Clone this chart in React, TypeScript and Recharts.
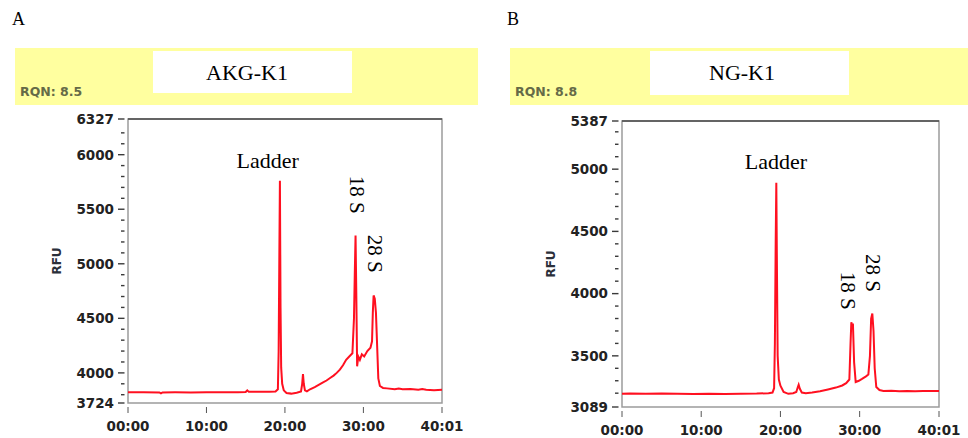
import React from 'react';
import { LineChart, Line, XAxis, YAxis, ReferenceArea, ReferenceLine, ReferenceDot } from 'recharts';

// electropherogram traces (time in minutes, RFU)
const timeA = [0, 2, 4, 4.2, 4.4, 6, 8, 10, 12, 14, 15, 15.2, 15.4, 16, 17, 18, 18.8, 19.1, 19.2, 19.28, 19.36, 19.44, 19.52, 19.65, 19.85, 20.2, 20.8, 21.5, 22.05, 22.2, 22.3, 22.4, 22.55, 22.8, 23.2, 23.8, 24.3, 24.8, 25.3, 25.8, 26.2, 26.6, 27.0, 27.4, 27.8, 28.2, 28.6, 28.8, 28.9, 29.0, 29.1, 29.2, 29.35, 29.55, 29.8, 30.1, 30.5, 30.9, 31.1, 31.2, 31.3, 31.45, 31.6, 31.75, 31.9, 32.1, 32.5, 33, 34, 34.5, 35, 36, 37, 37.5, 38, 39, 40.017];
const rfuA = [3822, 3822, 3821, 3812, 3821, 3822, 3821, 3822, 3822, 3823, 3825, 3840, 3826, 3826, 3827, 3828, 3830, 3850, 4200, 5000, 5760, 4600, 4050, 3900, 3840, 3815, 3810, 3818, 3830, 3900, 3990, 3900, 3840, 3830, 3850, 3870, 3890, 3910, 3930, 3955, 3975, 4000, 4030, 4070, 4120, 4150, 4180, 4500, 4900, 5260, 4700, 4060, 4150, 4120, 4170, 4150, 4200, 4230, 4290, 4550, 4710, 4680, 4550, 4250, 3950, 3880, 3862, 3858, 3850, 3856, 3850, 3852, 3846, 3852, 3845, 3842, 3845];

const timeB = [0, 1, 3, 5, 7, 9, 11, 13, 15, 17, 18.5, 19.0, 19.2, 19.3, 19.4, 19.48, 19.56, 19.65, 19.8, 20.0, 20.4, 21.0, 21.6, 22.0, 22.2, 22.3, 22.45, 22.7, 23.2, 24, 25, 26, 27, 27.8, 28.3, 28.7, 28.85, 28.95, 29.05, 29.15, 29.3, 29.5, 29.9, 30.3, 30.8, 31.1, 31.3, 31.45, 31.6, 31.75, 31.9, 32.1, 32.5, 33, 34, 35, 36, 37, 38, 39, 40.017];
const rfuB = [3195, 3198, 3196, 3197, 3195, 3193, 3195, 3194, 3196, 3197, 3200, 3205, 3240, 3600, 4400, 4890, 4200, 3500, 3310, 3260, 3210, 3195, 3200, 3210, 3250, 3268, 3235, 3205, 3200, 3205, 3215, 3230, 3245, 3262, 3280, 3310, 3600, 3770, 3740, 3760, 3450, 3290, 3300, 3315, 3335, 3350, 3500, 3800, 3840, 3700, 3400, 3250, 3225, 3218, 3220, 3216, 3218, 3216, 3217, 3218, 3218];

const xTicks = [0, 10, 20, 30, 40.017];
const xTickLabels = ['00:00', '10:00', '20:00', '30:00', '40:01'];

const yMajorA = [3724, 4000, 4500, 5000, 5500, 6000, 6327];
const yMinorA = [3800, 3900, 4100, 4200, 4300, 4400, 4600, 4700, 4800, 4900, 5100, 5200, 5300, 5400, 5600, 5700, 5800, 5900, 6100, 6200];
const yMajorB = [3089, 3500, 4000, 4500, 5000, 5387];
const yMinorB = [3200, 3300, 3400, 3600, 3700, 3800, 3900, 4100, 4200, 4300, 4400, 4600, 4700, 4800, 4900, 5100, 5200, 5300];

const peakNames = ['Ladder', '18 S', '28 S'];
const peakVertical = [false, true, true];
const peakTimeA = [17.8, 29.17, 31.46];
const peakRfuA = [5944, 5632, 5091];
const peakTimeB = [19.43, 28.5, 31.67];
const peakRfuB = [5060, 4023, 4166];

const axisFont = '"DejaVu Sans", Verdana, sans-serif';
const serif = '"Liberation Serif", "Times New Roman", serif';

function makeYTick(majors: number[]) {
  return (p: any) => {
    const major = majors.includes(p.payload.value);
    return (
      <g>
        <line x1={p.x - (major ? 10 : 7)} x2={p.x - 3.5} y1={p.y} y2={p.y} stroke="#3a3a3a" strokeWidth={1.4} />
        {major && (
          <text x={p.x - 14} y={p.y} dy="0.36em" textAnchor="end" fontFamily={axisFont} fontSize={13.5} fontWeight="bold" fill="#222">
            {p.payload.value}
          </text>
        )}
      </g>
    );
  };
}

const XTick = (p: any) => (
  <g>
    <line x1={p.x} x2={p.x} y1={p.y + 4} y2={p.y + 10} stroke="#555" strokeWidth={1} />
    <text x={p.x} y={p.y + 28} textAnchor="middle" fontFamily={axisFont} fontSize={13.5} fontWeight="bold" fill="#222">
      {xTickLabels[xTicks.indexOf(p.payload.value)]}
    </text>
  </g>
);

interface PanelProps {
  letter: string;
  title: string;
  rqn: string;
  times: number[];
  rfus: number[];
  yMajor: number[];
  yMinor: number[];
  peakTime: number[];
  peakRfu: number[];
  left: number;
  bandLeft: number;
  bandWidth: number;
  boxLeft: number;
  boxHeight: number;
  titleCenter: number;
  plotLeft: number;
  plotRight: number;
  plotTop: number;
  plotBottom: number;
}

function Panel(pp: PanelProps) {
  const data = pp.times.map((t, i) => ({ t, rfu: pp.rfus[i] }));
  const yMin = pp.yMajor[0];
  const yMax = pp.yMajor[pp.yMajor.length - 1];
  const ticks = [...pp.yMajor, ...pp.yMinor].sort((a, b) => a - b);
  const yAxisWidth = 90;
  const chartTop = 108;
  const chartH = 330;
  return (
    <>
      <div style={{ position: 'absolute', left: pp.left + pp.bandLeft - 3, top: 10, fontFamily: serif, fontSize: 18, lineHeight: '18px' }}>{pp.letter}</div>
      <div style={{ position: 'absolute', left: pp.left + pp.bandLeft, top: 48, width: pp.bandWidth, height: 57, background: '#ffff9f' }} />
      <div style={{ position: 'absolute', left: pp.left + pp.boxLeft, top: 51, width: 199, height: pp.boxHeight, background: '#fff' }} />
      <div style={{ position: 'absolute', left: pp.left + pp.titleCenter - 100, top: 62, width: 200, textAlign: 'center', fontFamily: serif, fontSize: 22, lineHeight: '22px', color: '#000' }}>{pp.title}</div>
      <div style={{ position: 'absolute', left: pp.left + pp.bandLeft + 5, top: 86, fontFamily: axisFont, fontSize: 12.5, lineHeight: '12.5px', fontWeight: 'bold', color: '#656a47' }}>{pp.rqn}</div>
      <div style={{ position: 'absolute', left: pp.left, top: chartTop }}>
        <LineChart
          width={484}
          height={chartH}
          data={data}
          margin={{ top: pp.plotTop - chartTop, right: 484 - pp.plotRight, left: pp.plotLeft - yAxisWidth, bottom: chartH - (pp.plotBottom - chartTop) - 30 }}
        >
          <XAxis
            type="number"
            dataKey="t"
            domain={[0, 40.017]}
            ticks={xTicks}
            axisLine={false}
            tickLine={false}
            tickSize={0}
            tickMargin={0}
            height={30}
            interval={0}
            tick={XTick}
          />
          <YAxis
            type="number"
            domain={[yMin, yMax]}
            ticks={ticks}
            axisLine={false}
            tickLine={false}
            tickSize={0}
            tickMargin={0}
            width={yAxisWidth}
            interval={0}
            tick={makeYTick(pp.yMajor)}
            label={{
              content: (lp: any) => {
                const vb = lp.viewBox;
                const cx = vb.x + vb.width - 67;
                const cy = vb.y + vb.height / 2;
                return (
                  <text x={cx} y={cy} transform={`rotate(-90 ${cx} ${cy})`} textAnchor="middle" fontFamily={axisFont} fontSize={12} fontWeight="bold" fill="#2b2f3a">
                    RFU
                  </text>
                );
              },
            }}
          />
          <ReferenceArea x1={0} x2={40.017} y1={yMin} y2={yMax} fill="none" stroke="#9c9c9c" strokeWidth={1.5} />
          <ReferenceLine y={yMax} stroke="#4a4a4a" strokeWidth={1.3} />
          <Line type="linear" dataKey="rfu" stroke="#ff1020" strokeWidth={2} dot={false} isAnimationActive={false} />
          {peakNames.map((name, i) => (
            <ReferenceDot
              key={name}
              x={pp.peakTime[i]}
              y={pp.peakRfu[i]}
              r={0}
              fill="none"
              stroke="none"
              label={{
                content: (lp: any) => {
                  const vb = lp.viewBox;
                  const cx = vb.x + (vb.width || 0) / 2;
                  const cy = vb.y + (vb.height || 0) / 2;
                  return (
                    <text
                      x={cx}
                      y={cy}
                      transform={peakVertical[i] ? `rotate(90 ${cx} ${cy})` : undefined}
                      textAnchor="middle"
                      dominantBaseline="central"
                      fontFamily={serif}
                      fontSize={peakVertical[i] ? 21 : 22}
                      fill="#000"
                    >
                      {name}
                    </text>
                  );
                },
              }}
            />
          ))}
        </LineChart>
      </div>
    </>
  );
}

export default function App() {
  return (
    <div style={{ position: 'absolute', left: 0, top: 0, width: 968, height: 438, background: '#fff', overflow: 'hidden' }}>
      <Panel
        letter="A"
        title="AKG-K1"
        rqn="RQN: 8.5"
        times={timeA}
        rfus={rfuA}
        yMajor={yMajorA}
        yMinor={yMinorA}
        peakTime={peakTimeA}
        peakRfu={peakRfuA}
        left={0}
        bandLeft={15}
        bandWidth={463}
        boxLeft={153}
        boxHeight={42}
        titleCenter={247}
        plotLeft={128}
        plotRight={442}
        plotTop={119}
        plotBottom={403}
      />
      <Panel
        letter="B"
        title="NG-K1"
        rqn="RQN: 8.8"
        times={timeB}
        rfus={rfuB}
        yMajor={yMajorB}
        yMinor={yMinorB}
        peakTime={peakTimeB}
        peakRfu={peakRfuB}
        left={484}
        bandLeft={26}
        bandWidth={458}
        boxLeft={166}
        boxHeight={44}
        titleCenter={258}
        plotLeft={138}
        plotRight={455}
        plotTop={121}
        plotBottom={407}
      />
    </div>
  );
}
